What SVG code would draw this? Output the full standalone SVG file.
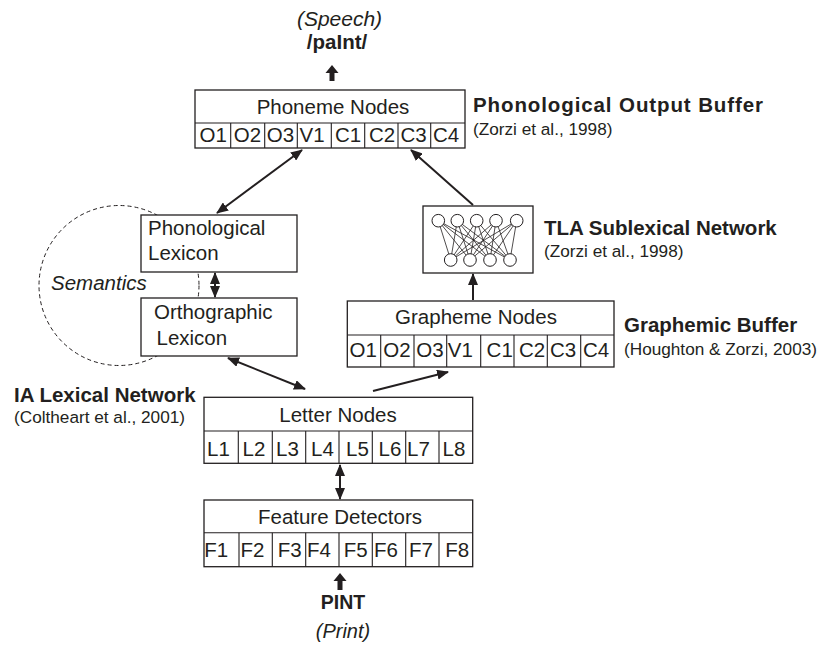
<svg xmlns="http://www.w3.org/2000/svg" width="822" height="649" viewBox="0 0 822 649">
<defs>
<style>
.box{fill:#fff;stroke:#231f20;stroke-width:1.3}
.div{stroke:#231f20;stroke-width:1.1}
.t{font-family:"Liberation Sans",Arial,sans-serif;fill:#231f20}
.lbl{font-size:20.5px;text-anchor:middle}
.cell{font-size:20.5px;text-anchor:middle}
.head{font-size:20.5px;font-weight:bold}
.cite{font-size:17.2px}
.it{font-style:italic}
.conn{stroke:#231f20;stroke-width:2;fill:none}
.net{stroke:#231f20;stroke-width:0.8;fill:none}
.nd{fill:#fff;stroke:#231f20;stroke-width:1}
</style>
<marker id="ah" markerUnits="userSpaceOnUse" markerWidth="12" markerHeight="10" refX="11" refY="5" orient="auto-start-reverse">
<path d="M0,0 L12,5 L0,10 z" fill="#231f20"/>
</marker>
</defs>
<rect width="822" height="649" fill="#fff"/>

<g id="semantics">
<circle cx="119" cy="285.5" r="80" fill="none" stroke="#231f20" stroke-width="1" stroke-dasharray="4,3"/>
<text class="t it" x="51" y="290" font-size="20.5">Semantics</text>
</g>

<g id="speech-output">
<text class="t it" x="339.5" y="26" font-size="21" text-anchor="middle">(Speech)</text>
<text class="t" x="337" y="49" font-size="20.5" font-weight="bold" text-anchor="middle">/paInt/</text>
<path d="M332,65 L338.5,73 L334.5,73 L334.5,81 L329.5,81 L329.5,73 L325.5,73 z" fill="#231f20"/>
</g>

<g id="phoneme-nodes">
<rect class="box" x="195" y="90" width="270" height="58"/>
<line class="div" x1="195" y1="123" x2="465" y2="123"/>
<path class="div" d="M230.7,123V148M264.7,123V148M297.3,123V148M331.3,123V148M364.7,123V148M398,123V148M430.7,123V148"/>
<text class="t lbl" x="333" y="114">Phoneme Nodes</text>
<text class="t cell" y="142"><tspan x="213.3">O1</tspan><tspan x="247.5">O2</tspan><tspan x="280.5">O3</tspan><tspan x="312">V1</tspan><tspan x="348">C1</tspan><tspan x="382">C2</tspan><tspan x="413.5">C3</tspan><tspan x="446">C4</tspan></text>
<text class="t head" x="473" y="112" font-size="21" textLength="290" lengthAdjust="spacing">Phonological Output Buffer</text>
<text class="t cite" x="473" y="135">(Zorzi et al., 1998)</text>
</g>

<g id="phonological-lexicon">
<rect class="box" x="141" y="215" width="156" height="57"/>
<text class="t" x="148" y="235" font-size="20.5">Phonological</text>
<text class="t" x="148" y="260" font-size="20.5">Lexicon</text>
</g>

<g id="orthographic-lexicon">
<rect class="box" x="141" y="298" width="156" height="58"/>
<text class="t" x="154" y="319" font-size="20.5">Orthographic</text>
<text class="t" x="156.5" y="345" font-size="20.5">Lexicon</text>
</g>

<g id="tla-network">
<rect class="box" x="423" y="206" width="110" height="67"/>
<g class="net">
<path d="M438.3,220.7L450.7,260M438.3,220.7L470,260M438.3,220.7L490,260M438.3,220.7L510,260
M457.3,220.7L450.7,260M457.3,220.7L470,260M457.3,220.7L490,260M457.3,220.7L510,260
M476.7,220.7L450.7,260M476.7,220.7L470,260M476.7,220.7L490,260M476.7,220.7L510,260
M496,220.7L450.7,260M496,220.7L470,260M496,220.7L490,260M496,220.7L510,260
M516.7,220.7L450.7,260M516.7,220.7L470,260M516.7,220.7L490,260M516.7,220.7L510,260"/>
</g>
<circle class="nd" cx="438.3" cy="220.7" r="6.3"/>
<circle class="nd" cx="457.3" cy="220.7" r="6.3"/>
<circle class="nd" cx="476.7" cy="220.7" r="6.3"/>
<circle class="nd" cx="496" cy="220.7" r="6.3"/>
<circle class="nd" cx="516.7" cy="220.7" r="6.3"/>
<circle class="nd" cx="450.7" cy="260" r="6.3"/>
<circle class="nd" cx="470" cy="260" r="6.3"/>
<circle class="nd" cx="490" cy="260" r="6.3"/>
<circle class="nd" cx="510" cy="260" r="6.3"/>
<text class="t head" x="544" y="235">TLA Sublexical Network</text>
<text class="t cite" x="544" y="257">(Zorzi et al., 1998)</text>
</g>

<g id="grapheme-nodes">
<rect class="box" x="347.3" y="301" width="266.7" height="66"/>
<line class="div" x1="347.3" y1="335" x2="614" y2="335"/>
<path class="div" d="M380.7,335V367M414,335V367M446.7,335V367M480.7,335V367M514,335V367M547.3,335V367M580.7,335V367"/>
<text class="t lbl" x="476" y="324">Grapheme Nodes</text>
<text class="t cell" y="357"><tspan x="363.3">O1</tspan><tspan x="397">O2</tspan><tspan x="430">O3</tspan><tspan x="460.3">V1</tspan><tspan x="499.7">C1</tspan><tspan x="532">C2</tspan><tspan x="563">C3</tspan><tspan x="596">C4</tspan></text>
<text class="t head" x="624" y="332">Graphemic Buffer</text>
<text class="t cite" x="624" y="355">(Houghton &amp; Zorzi, 2003)</text>
</g>

<g id="letter-nodes">
<rect class="box" x="204" y="397.3" width="268.7" height="66"/>
<line class="div" x1="204" y1="431" x2="472.7" y2="431"/>
<path class="div" d="M238.3,431V463.3M272.3,431V463.3M305.7,431V463.3M339,431V463.3M372.3,431V463.3M405.7,431V463.3M439,431V463.3"/>
<text class="t lbl" x="338" y="422">Letter Nodes</text>
<text class="t cell" y="455.5"><tspan x="218.5">L1</tspan><tspan x="254">L2</tspan><tspan x="287.5">L3</tspan><tspan x="322.5">L4</tspan><tspan x="357.5">L5</tspan><tspan x="390">L6</tspan><tspan x="418.5">L7</tspan><tspan x="454">L8</tspan></text>
<text class="t head" x="14" y="402">IA Lexical Network</text>
<text class="t cite" x="14" y="423">(Coltheart et al., 2001)</text>
</g>

<g id="feature-detectors">
<rect class="box" x="204" y="500" width="268.7" height="66.7"/>
<line class="div" x1="204" y1="532.7" x2="472.7" y2="532.7"/>
<path class="div" d="M239,532.7V566.7M272.3,532.7V566.7M305.7,532.7V566.7M339,532.7V566.7M372.3,532.7V566.7M405.7,532.7V566.7M439,532.7V566.7"/>
<text class="t lbl" x="340" y="524">Feature Detectors</text>
<text class="t cell" y="557"><tspan x="216.3">F1</tspan><tspan x="252.5">F2</tspan><tspan x="289.7">F3</tspan><tspan x="319">F4</tspan><tspan x="355.7">F5</tspan><tspan x="386">F6</tspan><tspan x="421">F7</tspan><tspan x="457.3">F8</tspan></text>
</g>

<g id="print-input">
<path d="M340,573 L346.5,581 L342.5,581 L342.5,590 L337.5,590 L337.5,581 L333.5,581 z" fill="#231f20"/>
<text class="t" x="343" y="609" font-size="19.5" font-weight="bold" text-anchor="middle">PINT</text>
<text class="t it" x="343" y="638" font-size="20" text-anchor="middle">(Print)</text>
</g>

<g id="connectors">
<line class="conn" x1="302" y1="150" x2="217" y2="213" marker-start="url(#ah)" marker-end="url(#ah)"/>
<line class="conn" x1="473" y1="205" x2="411" y2="150" marker-end="url(#ah)"/>
<line class="conn" x1="215" y1="273" x2="215" y2="297" marker-start="url(#ah)" marker-end="url(#ah)"/>
<line class="conn" x1="228" y1="358" x2="305" y2="389" marker-start="url(#ah)" marker-end="url(#ah)"/>
<line class="conn" x1="373" y1="391" x2="448" y2="372" marker-end="url(#ah)"/>
<line class="conn" x1="473" y1="300" x2="473" y2="274" marker-end="url(#ah)"/>
<line class="conn" x1="340" y1="465" x2="340" y2="499" marker-start="url(#ah)" marker-end="url(#ah)"/>
</g>
</svg>
